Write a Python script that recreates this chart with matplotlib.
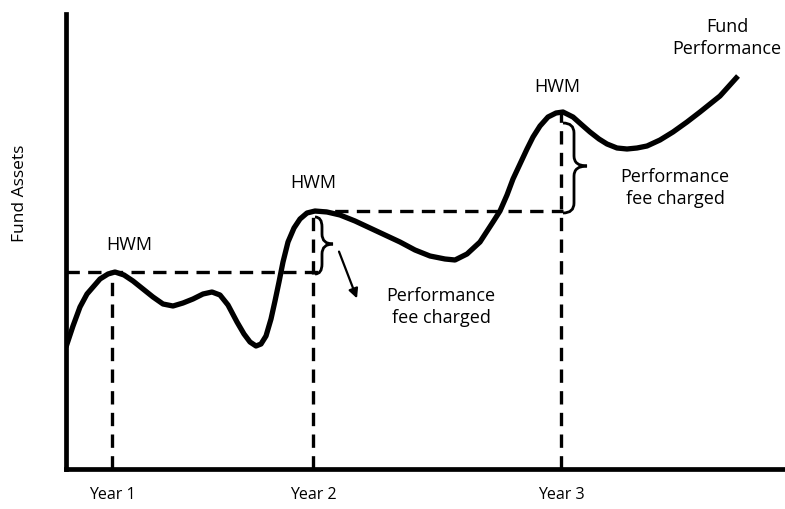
import matplotlib.pyplot as plt
from matplotlib.path import Path
from matplotlib.patches import PathPatch

plt.rcParams['font.family'] = ['Open Sans', 'DejaVu Sans']

# Fund performance curve (time, fund assets)
perf_x = [0, 7, 14, 21, 34, 42, 49, 58, 67, 77, 87, 97, 107, 117, 127, 137, 146,
          154, 162, 171, 178, 184, 190, 195, 200, 205, 209, 213, 217, 222, 228, 234,
          241, 249, 261, 274, 289, 304, 319, 334, 349, 364, 379, 389, 401, 414, 427,
          434, 441, 447, 454, 461, 467, 474, 482, 490, 497, 507, 516, 524, 533, 541,
          551, 561, 571, 581, 594, 607, 621, 634, 654, 672]
perf_y = [122, 143, 162, 175, 190, 195, 197, 194, 188, 180, 172, 165, 163, 166, 170,
          175, 177, 174, 164, 147, 135, 127, 123, 125, 133, 150, 168, 187, 207, 227,
          241, 250, 256, 258, 257, 254, 248, 241, 234, 227, 219, 213, 210, 209, 215,
          227, 247, 258, 274, 290, 305, 320, 332, 343, 352, 356, 357, 352, 344, 337,
          330, 325, 321, 320, 321, 323, 329, 337, 347, 357, 373, 393]

# High water marks
hwm_x = [46, 247, 495]
hwm_y = [197, 258, 357]
year_labels = ['Year 1', 'Year 2', 'Year 3']

fig = plt.figure(figsize=(7.85, 5.1), dpi=100)
ax = fig.add_axes([66 / 785, 40 / 510, 719 / 785, 455 / 510])
ax.set_xlim(0, 719)
ax.set_ylim(0, 455)

for s in ['top', 'right']:
    ax.spines[s].set_visible(False)
for s in ['left', 'bottom']:
    ax.spines[s].set_linewidth(3.4)
    ax.spines[s].set_capstyle('projecting')

ax.set_yticks([])
ax.set_xticks(hwm_x)
ax.set_xticklabels(year_labels, fontsize=11.5)
ax.tick_params(axis='x', length=0, pad=12)
ax.set_ylabel('Fund Assets', fontsize=12.5)
ax.yaxis.set_label_coords(-38 / 719, 277 / 455)

# Dashed guide lines
dash = dict(color='black', lw=2.4, dashes=(4, 2.5), zorder=2)
ax.plot([hwm_x[0], hwm_x[0]], [0, hwm_y[0]], **dash)
ax.plot([hwm_x[1], hwm_x[1]], [0, hwm_y[1]], **dash)
ax.plot([hwm_x[2], hwm_x[2]], [0, hwm_y[2]], **dash)
ax.plot([0, 259], [hwm_y[0], hwm_y[0]], **dash)
ax.plot([hwm_x[1], 497], [hwm_y[1], hwm_y[1]], **dash)

# Performance curve
ax.plot(perf_x, perf_y, color='black', lw=3.8, solid_joinstyle='round',
        solid_capstyle='butt', zorder=3)


def brace(x0, xm, xt, y0, y1, ym):
    r = min(10, (y1 - y0) / 4)
    verts = [(x0, y1), (xm, y1), (xm, y1 - r),
             (xm, ym + r), (xm, ym), (xt, ym),
             (xm, ym), (xm, ym - r),
             (xm, y0 + r), (xm, y0), (x0, y0)]
    codes = [Path.MOVETO, Path.CURVE3, Path.CURVE3,
             Path.LINETO, Path.CURVE3, Path.CURVE3,
             Path.CURVE3, Path.CURVE3,
             Path.LINETO, Path.CURVE3, Path.CURVE3]
    ax.add_patch(PathPatch(Path(verts, codes), fill=False, lw=2.0,
                           edgecolor='black', zorder=4))


brace(249, 256, 267, 195, 252, 225)
brace(497, 508, 521, 256, 346, 303)

ax.annotate('', xy=(292, 168), xytext=(272, 220),
            arrowprops=dict(arrowstyle='-|>', color='black', lw=1.6,
                            mutation_scale=14))

txt = dict(ha='center', va='center', fontsize=13, linespacing=1.3)
ax.text(63, 225, 'HWM', **txt)
ax.text(247, 287, 'HWM', **txt)
ax.text(491, 383, 'HWM', **txt)
ax.text(375, 163, 'Performance\nfee charged', **txt)
ax.text(609, 282, 'Performance\nfee charged', **txt)
ax.text(661, 432, 'Fund\nPerformance', clip_on=False, **txt)

fig.savefig('out.png', dpi=100)
